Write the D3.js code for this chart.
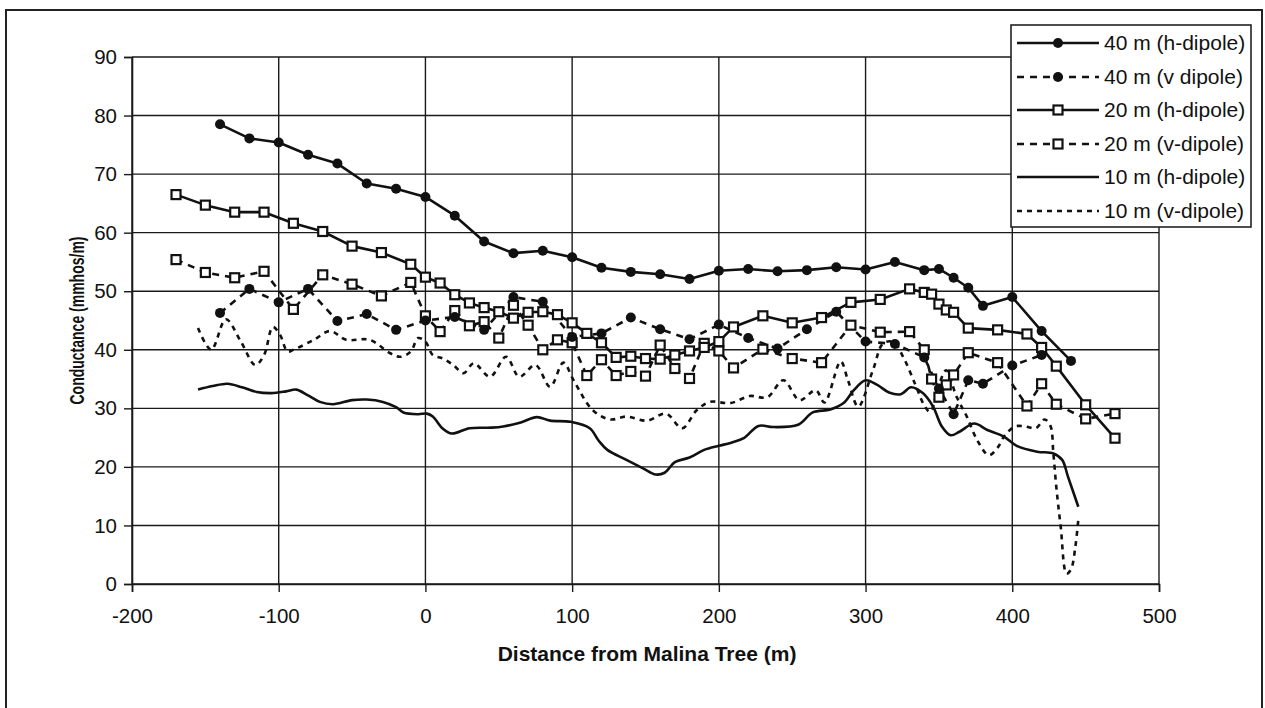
<!DOCTYPE html>
<html>
<head>
<meta charset="utf-8">
<script src="https://cdn.jsdelivr.net/npm/d3@7"></script>
<style>
  html, body { margin: 0; padding: 0; background: #fff; }
  svg { display: block; }
  text { font-family: "Liberation Sans", Arial, sans-serif; fill: #111; }
</style>
</head>
<body>
<svg id="chart" width="1265" height="708"></svg>
<script>
// ---------- data ----------
const xTicks = [-200, -100, 0, 100, 200, 300, 400, 500];
const yTicks = [0, 10, 20, 30, 40, 50, 60, 70, 80, 90];

const seriesNames = ["40 m (h-dipole)", "40 m (v dipole)", "20 m (h-dipole)", "20 m (v-dipole)", "10 m (h-dipole)", "10 m (v-dipole)"];

// 40 m dipoles (filled circles)
const x40 = [-140, -120, -100, -80, -60, -40, -20, 0, 20, 40, 60, 80, 100, 120, 140, 160, 180, 200, 220, 240, 260, 280, 300, 320, 340, 350, 360, 370, 380, 400, 420, 440];
const h40 = [78.5, 76.1, 75.4, 73.3, 71.8, 68.4, 67.5, 66.1, 62.9, 58.5, 56.5, 56.9, 55.8, 54.0, 53.3, 52.9, 52.1, 53.5, 53.8, 53.4, 53.6, 54.1, 53.7, 55.0, 53.6, 53.8, 52.3, 50.6, 47.5, 49.0, 43.2, 38.1];
const v40 = [46.3, 50.4, 48.1, 50.4, 44.9, 46.1, 43.4, 45.0, 45.6, 43.4, 49.0, 48.2, 42.2, 42.8, 45.5, 43.5, 41.8, 44.3, 42.0, 40.2, 43.5, 46.5, 41.4, 41.0, 38.7, 33.4, 29.0, 34.8, 34.2, 37.3, 39.1, null];

// 20 m dipoles (open squares)
const x20 = [-170, -150, -130, -110, -90, -70, -50, -30, -10, 0, 10, 20, 30, 40, 50, 60, 70, 80, 90, 100, 110, 120, 130, 140, 150, 160, 170, 180, 190, 200, 210, 230, 250, 270, 290, 310, 330, 340, 345, 350, 355, 360, 370, 390, 410, 420, 430, 450, 470];
const h20 = [66.5, 64.7, 63.5, 63.5, 61.6, 60.2, 57.7, 56.6, 54.6, 52.4, 51.4, 49.4, 48.0, 47.2, 46.5, 45.4, 46.4, 46.5, 46.0, 44.6, 42.8, 41.2, 38.7, 38.9, 38.5, 38.4, 39.1, 39.8, 40.4, 41.4, 43.9, 45.8, 44.6, 45.5, 48.1, 48.6, 50.4, 49.8, 49.5, 47.8, 46.8, 46.4, 43.7, 43.4, 42.7, 40.4, 37.2, 30.6, 24.9];
const v20 = [55.4, 53.2, 52.3, 53.4, 46.9, 52.8, 51.2, 49.2, 51.5, 45.8, 43.1, 46.7, 44.1, 44.8, 42.0, 47.6, 44.2, 40.0, 41.7, 41.2, 35.6, 38.3, 35.6, 36.3, 35.5, 40.8, 36.8, 35.1, 41.1, 39.8, 36.9, 40.1, 38.5, 37.8, 44.2, 43.0, 43.1, 40.0, 35.0, 31.9, 34.0, 35.7, 39.5, 37.8, 30.4, 34.2, 30.7, 28.2, 29.1];

// 10 m h-dipole (smoothed line, no markers)
const x10h = [-155, -145, -135, -125, -115, -105, -95, -88, -80, -72, -63, -50, -40, -29, -20, -15, -5, 1, 5, 12, 18, 30, 45, 53, 65, 76, 85, 99, 112, 118, 124, 137, 148, 157, 163, 170, 180, 190, 200, 208, 217, 227, 237, 254, 264, 276, 285, 292, 300, 308, 316, 324, 331, 339, 346, 352, 358, 364, 374, 383, 394, 403, 417, 428, 434, 438, 445];
const h10 = [33.2, 33.8, 34.2, 33.6, 32.8, 32.6, 32.9, 33.2, 32.2, 31.1, 30.7, 31.4, 31.5, 31.1, 30.2, 29.3, 29.0, 29.1, 28.6, 26.5, 25.7, 26.6, 26.7, 26.9, 27.6, 28.5, 27.9, 27.7, 26.6, 24.5, 22.9, 21.2, 19.8, 18.7, 19.0, 20.8, 21.6, 22.9, 23.6, 24.1, 24.9, 27.0, 26.8, 27.2, 29.3, 29.8, 30.9, 33.1, 34.8, 34.0, 32.7, 32.4, 33.6, 32.6, 30.3, 26.9, 25.4, 26.0, 27.4, 26.3, 25.2, 23.6, 22.6, 22.3, 21.2, 18.3, 13.2];

// 10 m v-dipole (smoothed dotted line, no markers)
const x10v = [-155, -146, -136, -126, -116, -110, -104, -99, -94, -90, -76, -65, -54, -38, -24, -17, -10, -5, 0, 5, 12, 19, 26, 33, 44, 55, 64, 75, 85, 94, 101, 114, 126, 137, 151, 164, 175, 185, 194, 208, 221, 233, 244, 255, 266, 272, 283, 288, 295, 305, 312, 319, 326, 334, 340, 344, 350, 355, 362, 369, 376, 384, 390, 395, 402, 409, 416, 422, 426, 428, 430, 433, 437, 440, 443, 445];
const v10 = [43.7, 40.0, 45.2, 41.5, 37.4, 39.1, 43.9, 42.5, 39.7, 40.0, 41.7, 43.2, 41.7, 41.7, 39.4, 38.8, 39.7, 42.0, 41.4, 39.1, 38.5, 37.4, 36.0, 37.7, 35.4, 38.8, 35.4, 37.4, 33.7, 37.8, 34.8, 29.7, 28.1, 28.6, 27.9, 29.1, 26.6, 29.7, 31.1, 30.9, 32.1, 31.9, 34.8, 31.4, 33.1, 31.0, 38.0, 34.8, 30.3, 36.5, 41.1, 41.3, 38.6, 34.0, 30.5, 29.4, 34.0, 36.5, 32.0, 28.6, 24.6, 22.0, 23.3, 25.4, 26.9, 26.9, 26.6, 28.1, 27.0, 22.3, 16.6, 9.8, 1.8, 2.5, 6.4, 11.0];

// ---------- build ----------
const svg = d3.select("#chart");
const x = d3.scaleLinear().domain([-200, 500]).range([132, 1159]);
const y = d3.scaleLinear().domain([0, 90]).range([584, 57]);

// outer frame
svg.append("rect").attr("x", 6).attr("y", 10).attr("width", 1256).attr("height", 706)
  .attr("fill", "none").attr("stroke", "#222").attr("stroke-width", 2);

// gridlines
const grid = svg.append("g");
grid.selectAll("line.h").data(yTicks).join("line")
  .attr("x1", x(-200)).attr("x2", x(500)).attr("y1", d => y(d)).attr("y2", d => y(d))
  .attr("stroke", "#1a1a1a").attr("stroke-width", 1.4);
grid.selectAll("line.v").data(xTicks).join("line")
  .attr("x1", d => x(d)).attr("x2", d => x(d)).attr("y1", y(0)).attr("y2", y(90))
  .attr("stroke", "#1a1a1a").attr("stroke-width", 1.4);

// axes
const fmt = d => String(d);
const yAxis = svg.append("g").attr("transform", `translate(${x(-200)},0)`)
  .call(d3.axisLeft(y).tickValues(yTicks).tickSize(8).tickPadding(7).tickFormat(fmt));
const xAxis = svg.append("g").attr("transform", `translate(0,${y(0)})`)
  .call(d3.axisBottom(x).tickValues(xTicks).tickSize(8).tickPadding(16).tickFormat(fmt));
[yAxis, xAxis].forEach(g => {
  g.select(".domain").attr("stroke", "#1a1a1a").attr("stroke-width", 1.6);
  g.selectAll(".tick line").attr("stroke", "#1a1a1a").attr("stroke-width", 1.4);
  g.selectAll("text").attr("font-size", 20.5).attr("fill", "#111")
    .style("font-family", '"Liberation Sans", Arial, sans-serif');
});

// axis titles
svg.append("text").attr("x", 647).attr("y", 661).attr("text-anchor", "middle")
  .attr("font-size", 21).attr("font-weight", "bold").text("Distance from Malina Tree (m)");
svg.append("text").attr("transform", `translate(84,${(y(0) + y(90)) / 2}) rotate(-90)`)
  .attr("text-anchor", "middle").attr("font-size", 20).attr("font-weight", "bold")
  .attr("textLength", 168).attr("lengthAdjust", "spacingAndGlyphs")
  .text("Conductance (mmhos/m)");

// series
const plot = svg.append("g");
function toPts(xs, ys) { return xs.map((d, i) => [d, ys[i]]).filter(p => p[1] != null); }
const lineLin = d3.line().x(p => x(p[0])).y(p => y(p[1]));
const lineSmooth = d3.line().x(p => x(p[0])).y(p => y(p[1])).curve(d3.curveCatmullRom.alpha(0.5));

const styles = [
  { pts: toPts(x40, h40), dash: null, marker: "circle", smooth: false },
  { pts: toPts(x40, v40), dash: "7,6", marker: "circle", smooth: false },
  { pts: toPts(x20, h20), dash: null, marker: "square", smooth: false },
  { pts: toPts(x20, v20), dash: "7,6", marker: "square", smooth: false },
  { pts: toPts(x10h, h10), dash: null, marker: null, smooth: true },
  { pts: toPts(x10v, v10), dash: "5,5", marker: null, smooth: true },
];

[4, 5, 3, 2, 1, 0].forEach(i => {
  const s = styles[i];
  plot.append("path").datum(s.pts)
    .attr("d", s.smooth ? lineSmooth : lineLin)
    .attr("fill", "none").attr("stroke", "#111").attr("stroke-width", 2.6)
    .attr("stroke-linejoin", "round")
    .attr("stroke-dasharray", s.dash);
});
function drawMarker(g, type, cx, cy) {
  if (type === "circle") {
    g.append("circle").attr("cx", cx).attr("cy", cy).attr("r", 5).attr("fill", "#111");
  } else if (type === "square") {
    g.append("rect").attr("x", cx - 4.5).attr("y", cy - 4.5).attr("width", 9).attr("height", 9)
      .attr("fill", "#fff").attr("stroke", "#111").attr("stroke-width", 2.2);
  }
}
[3, 2, 1, 0].forEach(i => {
  const s = styles[i];
  const g = plot.append("g");
  s.pts.forEach(p => drawMarker(g, s.marker, x(p[0]), y(p[1])));
});

// legend
const lg = svg.append("g");
lg.append("rect").attr("x", 1011).attr("y", 25).attr("width", 240).attr("height", 202)
  .attr("fill", "#fff").attr("stroke", "#222").attr("stroke-width", 1.6);
const lgY = [43, 77, 110, 144, 177, 211];
seriesNames.forEach((name, i) => {
  const s = styles[i];
  const yy = lgY[i];
  lg.append("line").attr("x1", 1017).attr("x2", 1099).attr("y1", yy).attr("y2", yy)
    .attr("stroke", "#111").attr("stroke-width", 2.6).attr("stroke-dasharray", s.dash);
  drawMarker(lg, s.marker, 1058, yy);
  lg.append("text").attr("x", 1104).attr("y", yy).attr("dy", "0.35em")
    .attr("font-size", 21).text(name);
});
</script>
</body>
</html>
